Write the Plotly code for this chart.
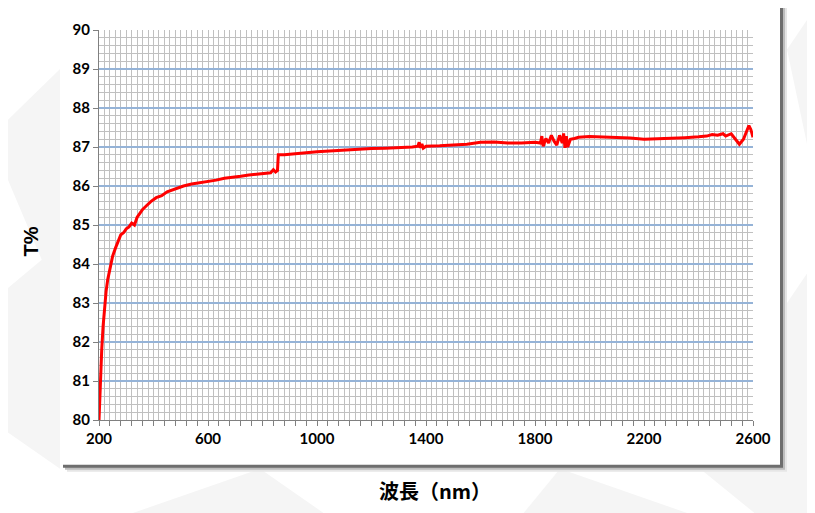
import plotly.graph_objects as go

wavelength = [200, 203, 206, 210, 215, 220, 226, 232, 240, 250, 260, 270, 280, 290, 300,
              310, 320, 330, 340, 350, 360, 375, 390, 410, 430, 450, 470, 490, 510, 540,
              570, 600, 630, 660, 690, 720, 750, 780, 810, 830, 840, 848, 855, 858, 880,
              920, 960, 1000, 1050, 1100, 1150, 1200, 1250, 1300, 1350, 1370, 1375, 1380,
              1385, 1390, 1400, 1450, 1500, 1550, 1600, 1650, 1700, 1750, 1800, 1820, 1825,
              1830, 1840, 1850, 1860, 1870, 1880, 1890, 1900, 1905, 1910, 1915, 1920, 1930,
              1945, 1960, 2000, 2050, 2100, 2150, 2200, 2250, 2300, 2350, 2400, 2430, 2450,
              2470, 2490, 2500, 2520, 2535, 2550, 2565, 2580, 2585, 2592, 2597, 2600]
transmittance = [80.0, 80.6, 81.2, 81.8, 82.4, 82.9, 83.3, 83.6, 83.9, 84.2, 84.4, 84.6, 84.75, 84.8, 84.9,
                 84.95, 85.05, 85.0, 85.2, 85.3, 85.4, 85.5, 85.6, 85.7, 85.75, 85.85, 85.9, 85.95, 86.0, 86.05,
                 86.08, 86.12, 86.15, 86.2, 86.22, 86.25, 86.28, 86.3, 86.33, 86.34, 86.42, 86.36, 86.4, 86.8, 86.8,
                 86.82, 86.85, 86.88, 86.9, 86.92, 86.95, 86.96, 86.97, 86.98, 87.0, 87.02, 87.12, 86.98,
                 87.08, 86.97, 87.02, 87.03, 87.05, 87.07, 87.12, 87.13, 87.1, 87.1, 87.12, 87.1, 87.28,
                 87.02, 87.22, 87.1, 87.3, 87.15, 87.05, 87.3, 87.1, 87.35, 86.98, 87.28, 87.0, 87.2,
                 87.22, 87.25, 87.27, 87.26, 87.25, 87.23, 87.2, 87.21, 87.22, 87.24, 87.26, 87.28, 87.32,
                 87.3, 87.34, 87.28, 87.34, 87.2, 87.07, 87.2, 87.45, 87.55, 87.45, 87.28, 87.25]

x_tick_labels = ["200", "600", "1000", "1400", "1800", "2200", "2600"]
y_title = "T%"
x_title = "波長（nm）"

OFF = 8  # page body margin
# plot area in target-page pixels
L, R, T, B = 99, 753, 20, 420
W, H = 815 - OFF, 513 - OFF


def px(x):
    return (x - L) / (R - L)


def py(y):
    return (B - y) / (B - T)


tickvals = list(range(200, 2601, 40))
ticktext = [s if s in x_tick_labels else "" for s in (str(v) for v in tickvals)]

fig = go.Figure()
fig.add_trace(go.Scatter(x=wavelength, y=transmittance, mode="lines",
                         line=dict(color="#ff0000", width=3), hoverinfo="x+y"))

shapes = []
bgpolys = [
    [(-10, 130), (60, 60), (60, 300)],
    [(-10, 300), (60, 240), (60, 470), (-10, 420)],
    [(120, 520), (260, 470), (330, 520)],
    [(560, 470), (700, 520), (520, 520)],
    [(787, 40), (820, -10), (820, 200)],
    [(787, 300), (820, 250), (820, 440), (787, 470)],
    [(700, 470), (820, 440), (820, 520), (760, 520)],
]
for pts in bgpolys:
    path = "M " + " L ".join(f"{px(x):.4f},{py(y):.4f}" for x, y in pts) + " Z"
    shapes.append(dict(type="path", path=path, xref="paper", yref="paper",
                       fillcolor="#f5f5f5", line=dict(width=0), layer="below"))
for off, col in [(7, "#e6e6e6"), (5, "#bdbdbd"), (3, "#6e6e6e")]:
    shapes.append(dict(type="rect", xref="paper", yref="paper",
                       x0=px(60 + off), x1=px(780 + off), y0=py(466 + off), y1=py(-20),
                       fillcolor=col, line=dict(width=0), layer="below"))
shapes.append(dict(type="rect", xref="paper", yref="paper",
                   x0=px(60), x1=px(780), y0=py(466), y1=py(-20),
                   fillcolor="white", line=dict(width=0), layer="below"))

fig.update_layout(
    width=W, height=H,
    margin=dict(l=L - OFF, r=815 - R, t=T - OFF, b=513 - B),
    paper_bgcolor="white", plot_bgcolor="white",
    showlegend=False,
    shapes=shapes,
    font=dict(family="Lato, Liberation Sans, sans-serif", color="black"),
    annotations=[
        dict(text=f"<b>{y_title}</b>", xref="paper", yref="paper", x=px(31), y=py(237),
             xanchor="center", yanchor="middle",
             textangle=-90, showarrow=False, font=dict(size=20, family="Liberation Sans")),
        dict(text=x_title, xref="paper", yref="paper", x=px(435), y=py(492),
             xanchor="center", yanchor="middle",
             showarrow=False, font=dict(size=20, family="Noto Sans CJK JP", weight="bold")),
    ],
    xaxis=dict(range=[200, 2600], tickmode="array", tickvals=tickvals, ticktext=ticktext,
               ticks="outside", ticklen=5, tickcolor="#808080", tickwidth=1,
               showgrid=True, gridcolor="#c0c0c0", gridwidth=1,
               minor=dict(dtick=20, tick0=200, showgrid=True, gridcolor="#c0c0c0", gridwidth=1),
               showline=True, linecolor="#808080", linewidth=1, zeroline=False,
               tickfont=dict(size=15, family="Lato", weight="bold"), fixedrange=True),
    yaxis=dict(range=[80, 90], dtick=1, tick0=80,
               ticks="outside", ticklen=5, tickcolor="#808080",
               showgrid=True, gridcolor="#95b3d7", gridwidth=1.5,
               minor=dict(dtick=0.2, tick0=80, showgrid=True, gridcolor="#c0c0c0", gridwidth=1),
               showline=True, linecolor="#808080", linewidth=1, zeroline=False,
               tickfont=dict(size=15, family="Lato", weight="bold"), fixedrange=True),
)

fig.write_html("out.html")
